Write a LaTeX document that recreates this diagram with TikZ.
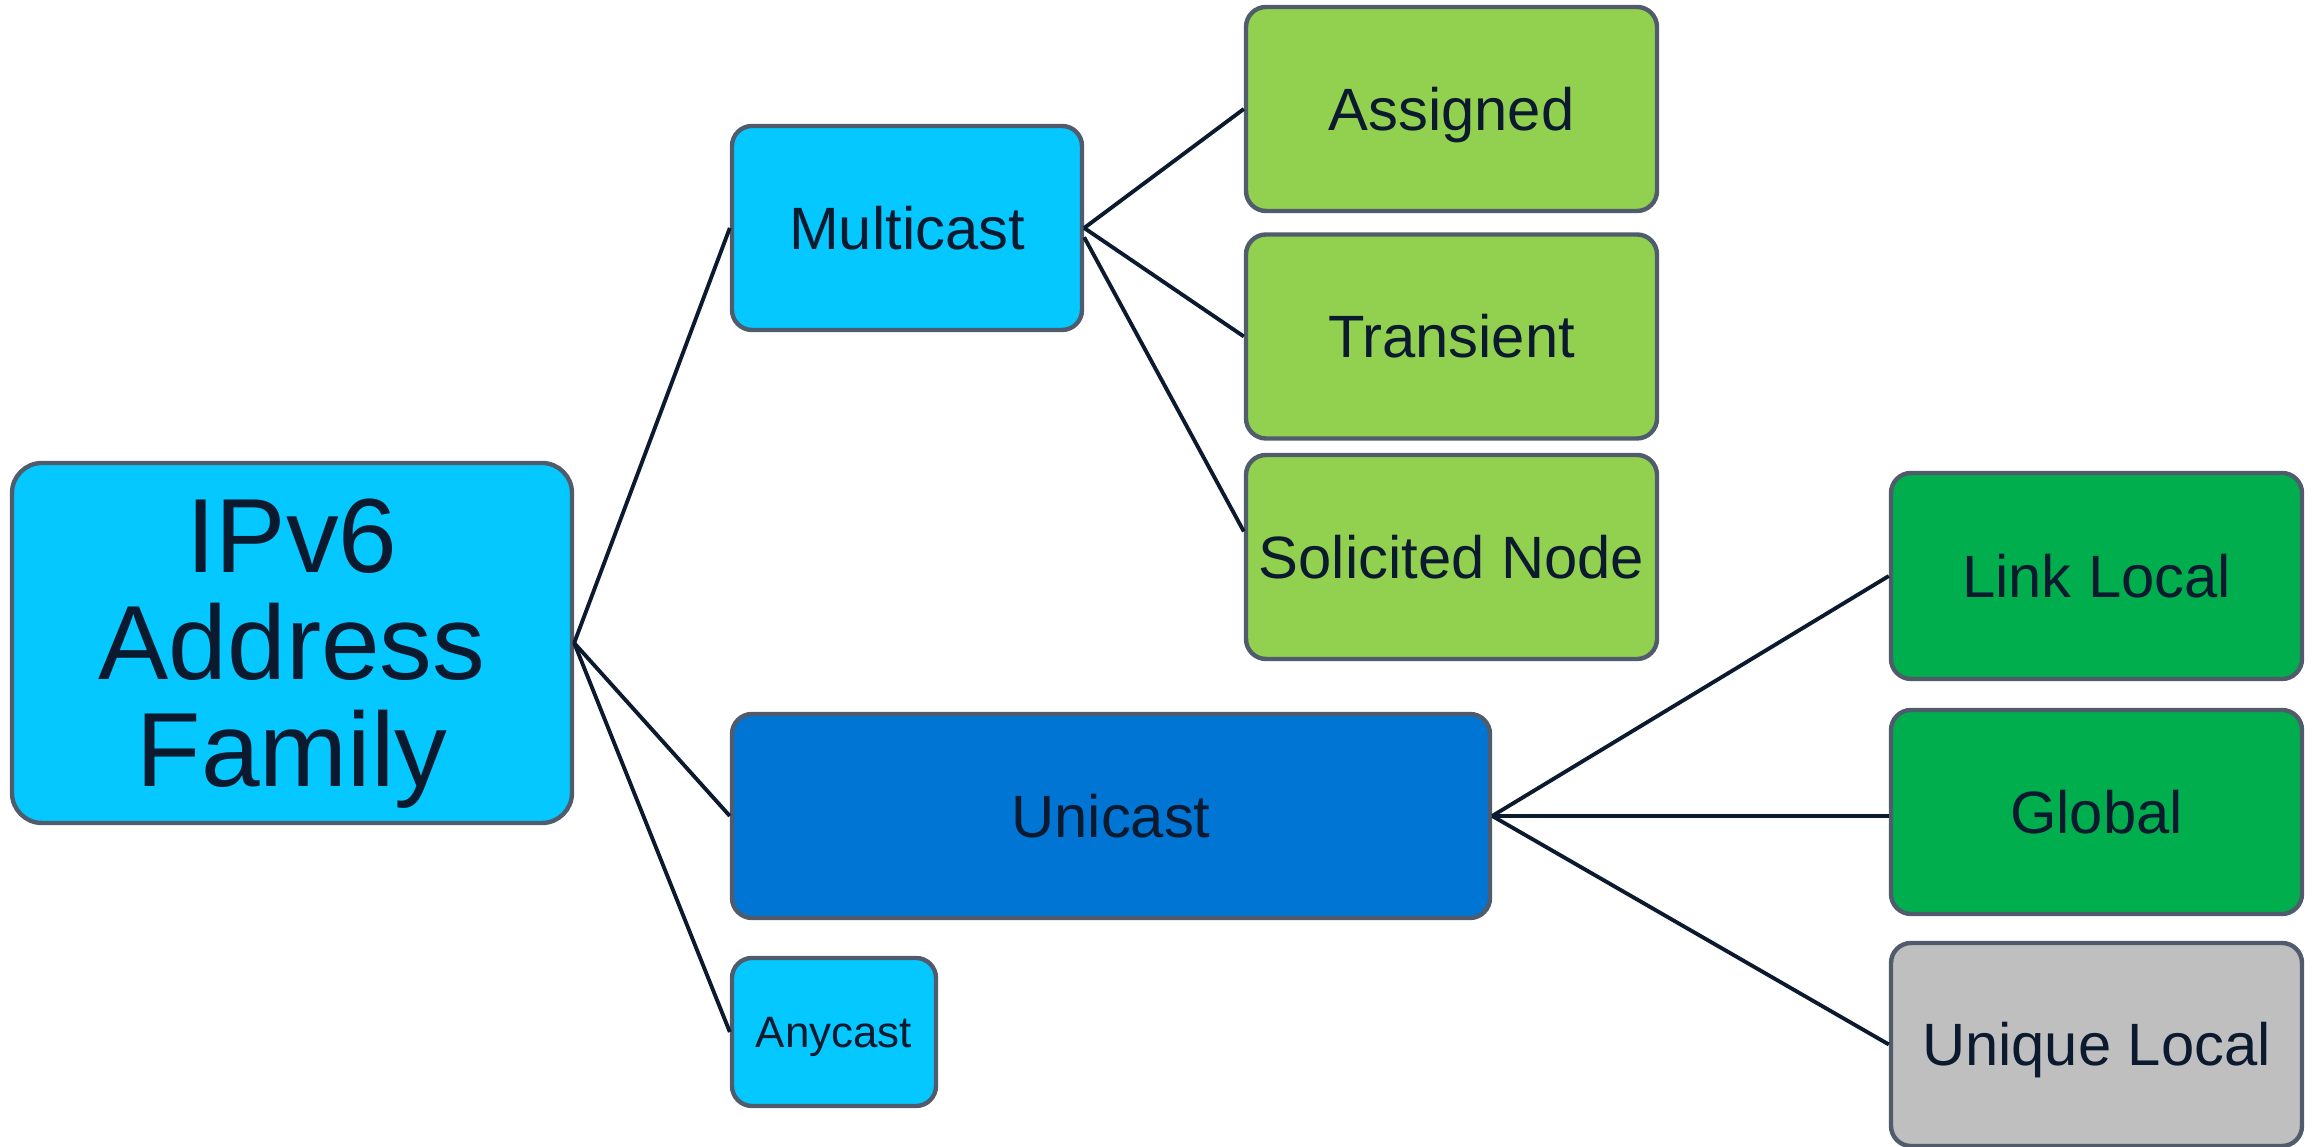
\documentclass[tikz,border=0pt]{standalone}
\usepackage{fontspec}
\setmainfont{Liberation Sans}
\usepackage{xcolor}
\usepackage{tikz}
\usetikzlibrary{positioning}

\definecolor{skyblue}{HTML}{04C8FF}
\definecolor{deepblue}{HTML}{0075D4}
\definecolor{lightgreen}{HTML}{92D050}
\definecolor{darkgreen}{HTML}{00AE4E}
\definecolor{lightgray}{HTML}{BFBFBF}
\definecolor{edgegray}{HTML}{505C6C}
\definecolor{navy}{HTML}{0B1A2E}

\begin{document}
\begin{tikzpicture}[
    box/.style={draw=edgegray, line width=1.25pt, rounded corners=0.2cm, align=center,
        inner sep=0pt, text=navy, font=\fontsize{17}{20}\selectfont,
        text height=12.2pt, text depth=0pt},
    link/.style={draw=navy, line width=1.1pt}
]
    \useasboundingbox (0,0) rectangle (23.18,11.47);

    % Root
    \node[box, fill=skyblue, minimum width=5.6cm, minimum height=3.6cm, rounded corners=0.3cm,
        font=\fontsize{30}{30.5}\selectfont, text height=] (ipv6) at (2.92,5.04) {IPv6\\Address\\Family};

    % Address types
    \node[box, fill=skyblue, minimum width=3.5cm, minimum height=2.04cm] (mcast) at (9.07,9.19) {Multicast};
    \node[box, fill=deepblue, minimum width=7.58cm, minimum height=2.04cm] (ucast) at (11.11,3.31) {Unicast};
    \node[box, fill=skyblue, minimum width=2.04cm, minimum height=1.48cm,
        font=\fontsize{12.5}{15}\selectfont, text height=9pt] (acast) at (8.34,1.15) {Anycast};

    % Multicast kinds
    \node[box, fill=lightgreen, minimum width=4.11cm, minimum height=2.04cm] (assigned) at (14.515,10.38) {Assigned};
    \node[box, fill=lightgreen, minimum width=4.11cm, minimum height=2.04cm] (transient) at (14.515,8.105) {Transient};
    \node[box, fill=lightgreen, minimum width=4.11cm, minimum height=2.04cm] (solnode) at (14.515,5.90) {Solicited Node};

    % Unicast kinds
    \node[box, fill=darkgreen, minimum width=4.11cm, minimum height=2.06cm] (linklocal) at (20.965,5.71) {Link Local};
    \node[box, fill=darkgreen, minimum width=4.11cm, minimum height=2.04cm] (global) at (20.965,3.35) {Global};
    \node[box, fill=lightgray, minimum width=4.11cm, minimum height=2.03cm] (uniqlocal) at (20.965,1.025) {Unique Local};

    % Connections
    \draw[link] (ipv6.east) -- (mcast.west);
    \draw[link] (ipv6.east) -- (ucast.west);
    \draw[link] (ipv6.east) -- (acast.west);

    \draw[link] (mcast.east) -- (assigned.west);
    \draw[link] (mcast.east) -- (transient.west);
    \draw[link] (mcast.-3) -- (solnode.173);

    \draw[link] (ucast.east) -- (linklocal.west);
    \draw[link] (ucast.east) -- (global.west |- ucast.east);
    \draw[link] (ucast.east) -- (uniqlocal.west);
\end{tikzpicture}
\end{document}
